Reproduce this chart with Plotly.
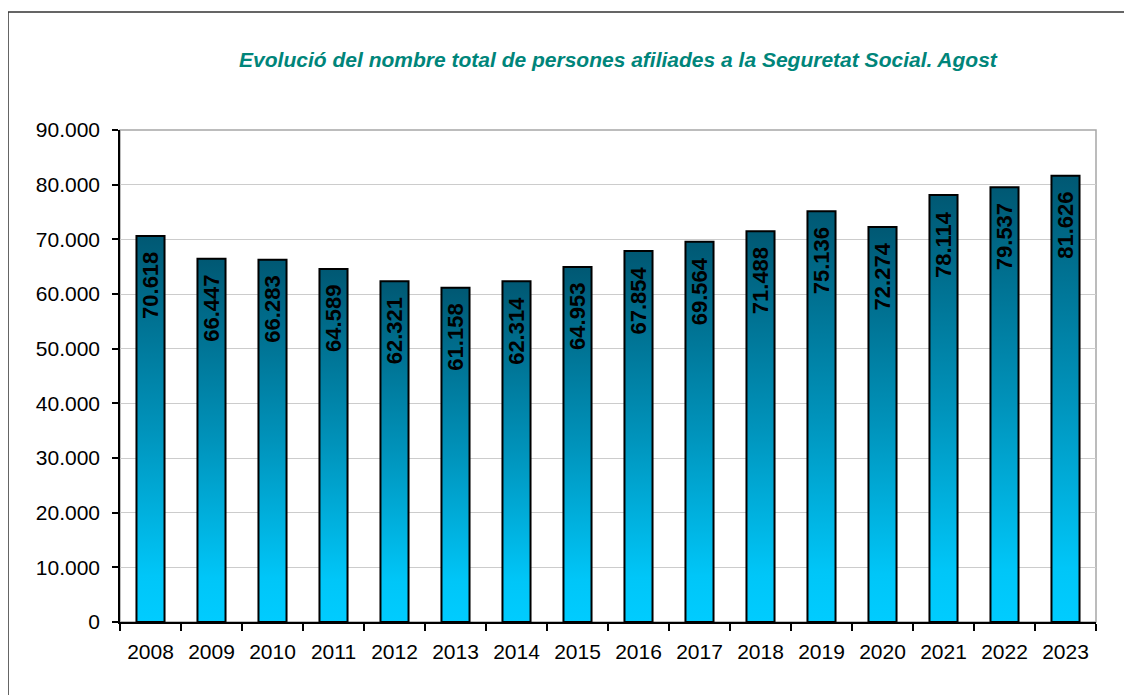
import plotly.graph_objects as go

years = ['2008', '2009', '2010', '2011', '2012', '2013', '2014', '2015',
         '2016', '2017', '2018', '2019', '2020', '2021', '2022', '2023']
afiliats = [70618, 66447, 66283, 64589, 62321, 61158, 62314, 64953,
            67854, 69564, 71488, 75136, 72274, 78114, 79537, 81626]
y_ticks = [0, 10000, 20000, 30000, 40000, 50000, 60000, 70000, 80000, 90000]

title = 'Evolució del nombre total de persones afiliades a la Seguretat Social. Agost'

FONT = 'Liberation Sans, Arial, sans-serif'
bar_w = 0.46
grad = [[0, '#00CCFF'], [0.12, '#00C6F8'], [0.5, '#0093BB'], [1, '#005873']]

# the page body adds an 8px margin, so the figure is 8px smaller than the window
W, H = 1124, 687
L, R, T, B = 112, 36, 122, 73
PW, PH = W - L - R, H - T - B


def fmt(v):
    return f'{v:,}'.replace(',', '.')


def px_x(x):
    return (x - 8 - L) / PW


def px_y(y):
    return (H - B + 8 - y) / PH


fig = go.Figure()

# each bar is a filled polygon so it can carry a vertical gradient
for i, v in enumerate(afiliats):
    x0, x1 = i - bar_w / 2, i + bar_w / 2
    fig.add_trace(go.Scatter(
        x=[x0, x1, x1, x0, x0], y=[0, 0, v, v, 0],
        mode='lines', fill='toself',
        fillgradient=dict(type='vertical', colorscale=grad),
        line=dict(color='black', width=2),
        hoverinfo='skip', showlegend=False))
    fig.add_annotation(x=i, y=v, text='<b>' + fmt(v) + '</b>', showarrow=False,
                       textangle=-90, yanchor='top', yshift=-14,
                       font=dict(family=FONT, size=22, color='black'))

fig.add_shape(type='rect', xref='x domain', yref='y domain', x0=0, x1=1, y0=0, y1=1,
              line=dict(color='#A6A6A6', width=1.5), layer='below')

# outer chart border
fig.add_shape(type='rect', xref='paper', yref='paper',
              x0=px_x(8), x1=px_x(1150), y0=px_y(710), y1=px_y(12),
              line=dict(color='#333333', width=1.5))

fig.update_layout(
    width=W, height=H,
    margin=dict(l=L, r=R, t=T, b=B),
    paper_bgcolor='white', plot_bgcolor='white',
    separators=',.',
    font=dict(family=FONT, size=21, color='black'),
    title=dict(text='<b><i>' + title + '</i></b>', x=(618 - 8) / W, xanchor='center',
               y=1 - (60 - 8) / H, yanchor='middle', xref='container', yref='container',
               font=dict(family=FONT, size=21, color='#00857A')),
    xaxis=dict(range=[-0.5, len(years) - 0.5], tickvals=list(range(len(years))),
               ticktext=years, ticks='', showgrid=False, zeroline=False,
               showline=True, linecolor='black', linewidth=1.5,
               ticklabelstandoff=10,
               minor=dict(tickvals=[i - 0.5 for i in range(len(years) + 1)],
                          ticks='outside', ticklen=7, tickcolor='black', tickwidth=1.5,
                          showgrid=False)),
    yaxis=dict(range=[0, 90000], tickvals=y_ticks, tickformat=',d',
               ticks='outside', ticklen=6, tickcolor='black', tickwidth=1.5,
               showgrid=True, gridcolor='#CCCCCC', gridwidth=1, zeroline=False,
               showline=True, linecolor='black', linewidth=1.5,
               ticklabelstandoff=8),
)

fig.write_html('out.html')
